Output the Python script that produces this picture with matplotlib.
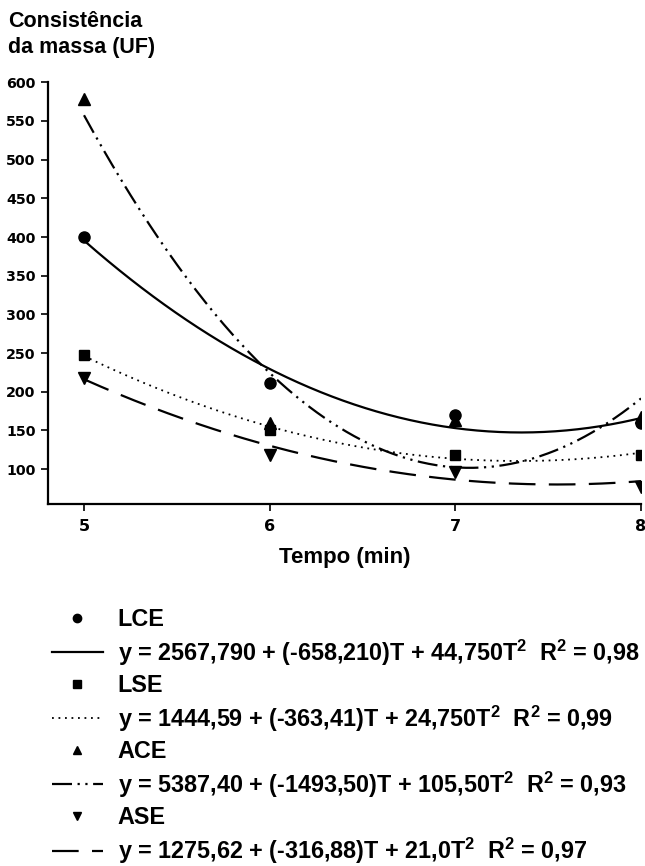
import numpy as np
import matplotlib
matplotlib.use("Agg")
import matplotlib.pyplot as plt
from matplotlib.lines import Line2D

# data
tempo = [5, 6, 7, 8]
lce = [400, 212, 170, 160]
lse = [248, 150, 118, 118]
ace = [578, 160, 164, 168]
ase = [218, 118, 96, 77]

# fitted quadratics, y = a + b*T + c*T^2 (from the legend)
fit_lce = [2567.790, -658.210, 44.750]
fit_lse = [1444.59, -363.41, 24.750]
fit_ace = [5387.40, -1493.50, 105.50]
fit_ase = [1275.62, -316.88, 21.0]

eq_labels = [
    "y = 2567,790 + (-658,210)T + 44,750T$^{2}$  R$^{2}$ = 0,98",
    "y = 1444,59 + (-363,41)T + 24,750T$^{2}$  R$^{2}$ = 0,99",
    "y = 5387,40 + (-1493,50)T + 105,50T$^{2}$  R$^{2}$ = 0,93",
    "y = 1275,62 + (-316,88)T + 21,0T$^{2}$  R$^{2}$ = 0,97",
]
names = ["LCE", "LSE", "ACE", "ASE"]

plt.rcParams["font.family"] = "Liberation Sans"
plt.rcParams["font.weight"] = "bold"
plt.rcParams["mathtext.fontset"] = "custom"
plt.rcParams["mathtext.rm"] = "Liberation Sans:bold"
plt.rcParams["mathtext.default"] = "rm"

fig = plt.figure(figsize=(6.45, 8.66), dpi=100)
ax = fig.add_axes([0.0744, 0.418, 0.9194, 0.487])

series = [lce, lse, ace, ase]
fits = [fit_lce, fit_lse, fit_ace, fit_ase]
markers = ["o", "s", "^", "v"]
msizes = [8, 7, 8, 8]
styles = ["-", (0, (1, 2.6)), (0, (9, 2.5, 1, 2.5, 1, 2.5)), (0, (12, 6))]
lws = [1.6, 1.3, 1.6, 1.6]

tt = np.linspace(5, 8, 300)
for vals, coef, mk, ms, ls, lw in zip(series, fits, markers, msizes, styles, lws):
    ax.plot(tempo, vals, linestyle="none", marker=mk, ms=ms, color="black")
    a, b, c = coef
    ax.plot(tt, a + b * tt + c * tt ** 2, linestyle=ls, lw=lw, color="black")

ax.set_xlim(4.806, 8.0)
ax.set_ylim(55, 600)
ax.set_xticks([5, 6, 7, 8])
ax.set_yticks(range(100, 601, 50))
for s in ["top", "right"]:
    ax.spines[s].set_visible(False)
for s in ["left", "bottom"]:
    ax.spines[s].set_linewidth(1.6)
ax.tick_params(axis="both", direction="out", length=5, width=1.2)
ax.tick_params(axis="x", pad=6)
ax.tick_params(axis="y", pad=4)
for lab in ax.get_yticklabels():
    lab.set_fontfamily("DejaVu Sans")
    lab.set_fontweight("bold")
    lab.set_fontsize(10.3)
for lab in ax.get_xticklabels():
    lab.set_fontfamily("DejaVu Sans")
    lab.set_fontweight("bold")
    lab.set_fontsize(11.5)

ax.set_xlabel("Tempo (min)", fontsize=16, fontweight="bold", labelpad=9)
fig.text(0.012, 0.987, "Consistência\nda massa (UF)", fontsize=15.5,
         fontweight="bold", va="top", ha="left", linespacing=1.3)

# legend: marker row then fitted-curve row for each treatment
handles, labels = [], []
for name, eq, mk, ls, lw in zip(names, eq_labels, markers, styles, lws):
    handles.append(Line2D([], [], linestyle="none", marker=mk, ms=6, color="black"))
    labels.append(name)
    handles.append(Line2D([], [], linestyle=ls, lw=lw, color="black"))
    labels.append(eq)

fig.legend(handles, labels, loc="upper left", bbox_to_anchor=(0.08, 0.298),
           frameon=False, fontsize=16.8, handlelength=2.19, handletextpad=0.64,
           labelspacing=0.276, borderpad=0, borderaxespad=0)

fig.savefig("out.png", dpi=100)
